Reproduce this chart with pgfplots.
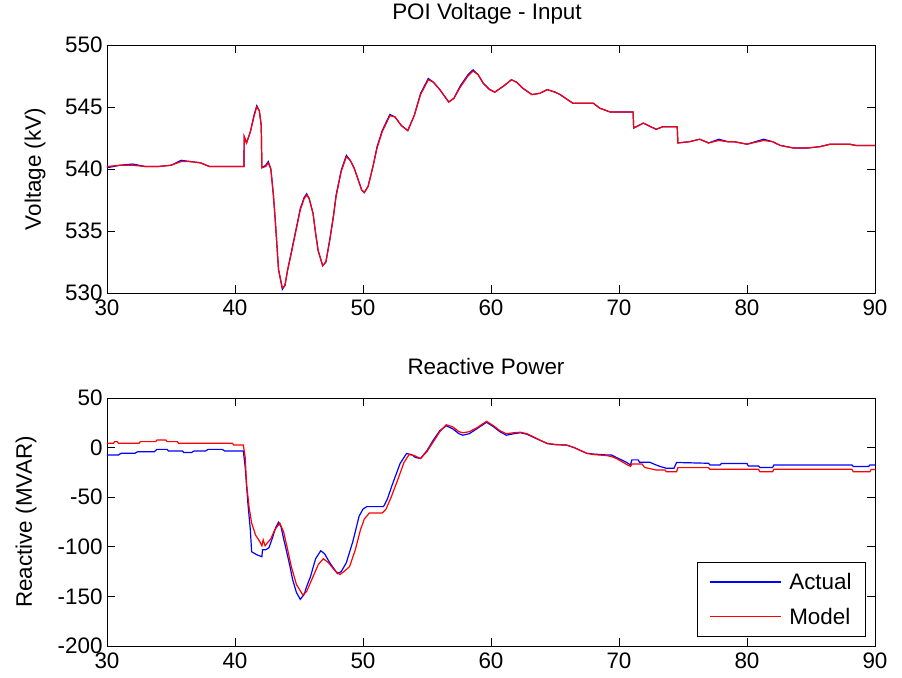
\documentclass[border=0pt]{standalone}
\usepackage{pgfplots}
\pgfplotsset{compat=1.18}
\usepackage{fontspec}
\setmainfont{Liberation Sans}
\definecolor{mblue}{RGB}{0,0,255}
\definecolor{mred}{RGB}{255,0,0}
\pgfplotsset{
  mstyle/.style={
    scale only axis, width=768bp, height=248bp,
    xmin=30, xmax=90, xtick={30,40,...,90},
    tick align=inside, tick pos=both,
    major tick length=8bp, minor tick num=0,
    axis line style={black, line width=0.8bp},
    every tick/.style={black, line width=0.8bp},
    /pgf/number format/assume math mode=true,
    scaled ticks=false,
    xticklabel style={yshift=-3bp},
    yticklabel style={xshift=-1bp},
    clip=true,
  }
}
\begin{document}
\begin{tikzpicture}[font=\fontsize{22.5}{27}\selectfont]
\path[use as bounding box] (-107bp,-32bp) rectangle (795bp,646bp);
% ---------------- top axis ----------------
\begin{axis}[mstyle, at={(0bp,353bp)}, anchor=south west,
  ymin=530, ymax=550, ytick={530,535,...,550},
  title={POI Voltage - Input},
  title style={at={(axis description cs:0.5,1)}, anchor=base, yshift=19.3bp, xshift=-4bp},
  ylabel={Voltage (kV)},
  ylabel style={at={(axis description cs:0,0.5)}, anchor=center, yshift=72bp},
]
\addplot[mblue, line width=1.2bp, mark=none] coordinates {
(30,540.1) (31,540.3) (32,540.4) (33,540.2) (34,540.2) (35,540.3) (35.8,540.7) (36.5,540.6) (37.3,540.5) (38,540.2) (40.7,540.2)
(40.72,542.6) (40.9,542.1) (41.2,543.0) (41.5,544.4) (41.7,545.1) (41.9,544.7) (42.05,543.5) (42.1,540.1) (42.4,540.3) (42.6,540.6) (42.8,540.0)
(43.0,537.9) (43.15,535.8) (43.4,531.9) (43.7,530.3) (43.9,530.6) (44.1,531.8) (44.4,533.3) (44.8,535.3) (45.1,536.8) (45.4,537.7) (45.6,538.0)
(45.8,537.6) (46.1,536.4) (46.3,534.8) (46.5,533.4) (46.85,532.2) (47.1,532.5) (47.4,534.3) (47.7,536.3) (47.9,537.9) (48.3,539.9) (48.7,541.1)
(49.0,540.7) (49.3,540.1) (49.6,539.2) (49.9,538.3) (50.1,538.1) (50.4,538.6) (50.8,540.3) (51.1,541.8) (51.5,543.1) (52.1,544.4) (52.5,544.2)
(53.0,543.5) (53.5,543.1) (54.0,544.3) (54.5,546.1) (55.1,547.3) (55.5,547.0) (56.0,546.4) (56.7,545.4) (57.1,545.7) (57.6,546.7) (58.2,547.6)
(58.6,548.0) (59.0,547.6) (59.4,546.9) (59.9,546.4) (60.3,546.2) (61.0,546.7) (61.6,547.2) (62.0,547.0) (62.5,546.5) (63.2,546.0) (63.8,546.1)
(64.4,546.4) (65.0,546.2) (65.4,546.0) (66.4,545.3) (68.0,545.3) (68.5,544.9) (69.3,544.6) (71.1,544.6) (71.15,543.3) (71.9,543.7) (72.9,543.2)
(73.4,543.4) (74.55,543.4) (74.6,542.1) (75.5,542.2) (76.3,542.4) (77.0,542.1) (77.8,542.4) (78.5,542.2) (79.0,542.2) (80.0,542.0) (81.3,542.4)
(82.0,542.2) (82.6,541.9) (83.6,541.7) (84.8,541.7) (85.7,541.8) (86.5,542.0) (88.0,542.0) (88.5,541.9) (90,541.9)
};
\addplot[mred, line width=1.2bp, mark=none] coordinates {
(30,540.2) (31,540.3) (32,540.3) (33,540.2) (34,540.2) (35,540.3) (35.8,540.6) (36.5,540.6) (37.3,540.5) (38,540.2) (40.7,540.2)
(40.72,542.6) (40.9,542.1) (41.2,543.0) (41.5,544.3) (41.7,545.0) (41.9,544.7) (42.05,543.5) (42.1,540.1) (42.4,540.2) (42.6,540.5) (42.8,540.0)
(43.0,537.9) (43.15,535.8) (43.4,531.9) (43.7,530.4) (43.9,530.6) (44.1,531.8) (44.4,533.2) (44.8,535.2) (45.1,536.7) (45.4,537.6) (45.6,537.9)
(45.8,537.6) (46.1,536.4) (46.3,534.8) (46.5,533.4) (46.85,532.2) (47.1,532.5) (47.4,534.2) (47.7,536.2) (47.9,537.8) (48.3,539.8) (48.7,541.0)
(49.0,540.7) (49.3,540.1) (49.6,539.2) (49.9,538.3) (50.1,538.1) (50.4,538.6) (50.8,540.3) (51.1,541.7) (51.5,543.0) (52.1,544.3) (52.5,544.2)
(53.0,543.5) (53.5,543.1) (54.0,544.3) (54.5,546.0) (55.1,547.2) (55.5,547.0) (56.0,546.4) (56.7,545.4) (57.1,545.7) (57.6,546.6) (58.2,547.5)
(58.6,547.9) (59.0,547.6) (59.4,546.9) (59.9,546.4) (60.3,546.2) (61.0,546.7) (61.6,547.2) (62.0,547.0) (62.5,546.5) (63.2,546.0) (63.8,546.1)
(64.4,546.4) (65.0,546.2) (65.4,546.0) (66.4,545.3) (68.0,545.3) (68.5,544.9) (69.3,544.6) (71.1,544.6) (71.15,543.3) (71.9,543.7) (72.9,543.2)
(73.4,543.4) (74.55,543.4) (74.6,542.1) (75.5,542.2) (76.3,542.4) (77.0,542.1) (77.8,542.3) (78.5,542.2) (79.0,542.2) (80.0,542.0) (81.3,542.3)
(82.0,542.2) (82.6,541.9) (83.6,541.7) (84.8,541.7) (85.7,541.8) (86.5,542.0) (88.0,542.0) (88.5,541.9) (90,541.9)
};
\end{axis}
% ---------------- bottom axis ----------------
\begin{axis}[mstyle, at={(0bp,0bp)}, anchor=south west,
  ymin=-200, ymax=50, ytick={-200,-150,...,50},
  title={Reactive Power},
  title style={at={(axis description cs:0.5,1)}, anchor=base, yshift=17.3bp, xshift=-5bp},
  ylabel={Reactive (MVAR)},
  ylabel style={at={(axis description cs:0,0.5)}, anchor=center, yshift=81bp},
  legend style={at={(axis description cs:1,0)}, anchor=south east, xshift=-9bp, yshift=9bp,
    draw=black, line width=0.8bp, inner xsep=12bp, inner ysep=9bp, row sep=13bp, column sep=6bp,
    nodes={inner sep=2bp}},
  legend cell align=left,
  legend image code/.code={\draw[#1, line width=1.2bp] (0bp,0bp) -- (71bp,0bp);},
]
\addplot[mblue, line width=1.2bp, mark=none] coordinates {
(30,-7.4) (30.9,-7.4) (31.1,-5.7) (32.2,-5.7) (32.4,-4.1) (33.7,-4.1) (33.9,-1.8) (34.7,-1.8) (34.8,-3.4) (35.9,-3.4) (36.0,-5) (36.6,-5)
(36.8,-3.4) (37.7,-3.4) (37.9,-1.8) (39.0,-1.8) (39.2,-3.4) (40.65,-3.4)
(40.8,-20) (41.0,-55) (41.2,-83) (41.3,-105) (41.7,-108) (42.1,-110) (42.15,-103) (42.4,-103) (42.65,-101) (42.9,-92) (43.2,-80) (43.4,-75.3)
(43.6,-80) (43.8,-92) (44.0,-103) (44.3,-120) (44.5,-133) (44.8,-146) (45.1,-153) (45.4,-148) (45.6,-140) (45.9,-130) (46.3,-112) (46.7,-104)
(47.0,-107) (47.4,-116) (48.0,-127) (48.3,-125) (48.7,-116) (49.2,-95) (49.7,-69) (50.0,-62) (50.3,-59.5) (51.6,-59.5) (51.9,-52) (52.3,-37)
(52.9,-16) (53.4,-6) (53.8,-7) (54.1,-10) (54.5,-11) (55.0,-3) (55.5,7.7) (56.0,17) (56.5,22) (57.0,19) (57.5,14) (57.8,12.5) (58.3,14)
(58.9,19) (59.65,25.5) (60.2,21) (60.7,16) (61.2,12.5) (61.8,14) (62.3,15) (62.8,13.5) (63.3,10.5) (63.9,7) (64.4,4) (65.0,3) (65.9,2.5)
(66.5,0) (67.0,-3) (67.5,-5.8) (68.0,-6.5) (69.0,-7.4) (69.4,-7.4) (69.8,-10) (70.2,-12.4) (70.6,-15) (70.9,-17.5) (71.0,-12.4) (71.5,-12.4)
(71.6,-14.7) (72.4,-14.7) (72.8,-17) (73.2,-19) (73.7,-20.8) (74.3,-20.8) (74.5,-15) (77.0,-15.8) (77.1,-17.5) (77.9,-17.5) (78.0,-16) (80.0,-16)
(80.1,-18.5) (80.9,-18.5) (81.0,-20) (82.0,-20) (82.1,-17.5) (88.2,-17.5) (88.3,-19) (89.5,-19) (89.6,-17.5) (90,-17.5)
};
\addlegendentry{Actual}
\addplot[mred, line width=1.2bp, mark=none] coordinates {
(30,4.3) (30.5,4.3) (30.6,6) (30.8,6) (30.9,4.3) (32.5,4.3) (32.6,6) (33.8,6) (33.9,7.7) (34.6,7.7) (34.7,6) (35.5,6) (35.6,4.3) (39.8,4.3)
(39.9,2.6) (40.65,2.6)
(40.8,-10) (40.9,-36) (41.1,-60) (41.3,-76) (41.6,-88) (41.95,-95) (42.1,-99) (42.2,-93) (42.35,-99) (42.5,-96.5) (42.8,-92) (43.1,-83)
(43.5,-76) (43.8,-85) (44.1,-102) (44.4,-120) (44.8,-138) (45.3,-148.6) (45.6,-145) (46.1,-130) (46.5,-118) (46.9,-112) (47.3,-116) (47.8,-124)
(48.2,-128) (48.6,-124) (48.95,-120) (49.4,-103) (49.8,-83) (50.1,-72) (50.5,-66) (51.5,-66) (51.8,-62) (52.2,-50) (52.7,-33) (53.2,-15)
(53.6,-7) (54.0,-8) (54.5,-11) (55.0,-4) (55.5,6) (56.0,16) (56.5,23) (57.0,21) (57.5,16) (57.8,15) (58.3,16) (58.9,20) (59.65,26.5)
(60.2,22) (60.7,17) (61.2,14) (61.8,15) (62.3,15.5) (62.8,14) (63.3,11) (63.9,7) (64.4,4.3) (65.0,3.2) (65.9,2.6) (66.5,0) (67.0,-3)
(67.5,-5.8) (68.0,-7) (69.0,-8) (69.4,-9) (69.8,-11) (70.2,-14) (70.6,-17) (70.9,-19) (71.0,-16.5) (71.8,-16.5) (72.0,-20) (72.9,-22.6)
(73.6,-22.6) (73.7,-24.3) (74.5,-24.3) (74.6,-20.2) (77.0,-20.2) (77.1,-21.9) (80.9,-21.9) (81.0,-24.3) (82.0,-24.3) (82.1,-21.9)
(88.2,-21.9) (88.3,-24.3) (89.6,-24.3) (89.7,-22) (90,-22)
};
\addlegendentry{Model}
\end{axis}
\end{tikzpicture}
\end{document}
